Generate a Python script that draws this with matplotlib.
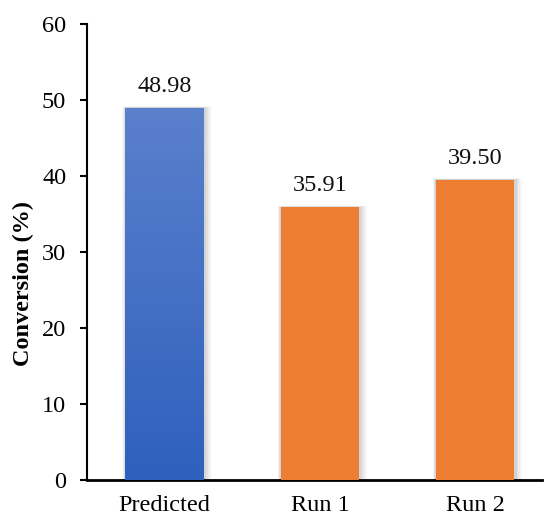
import numpy as np
import matplotlib
matplotlib.use("Agg")
import matplotlib.pyplot as plt
from matplotlib.colors import LinearSegmentedColormap
from matplotlib.patches import Rectangle

categories = ["Predicted", "Run 1", "Run 2"]
conversion = [48.98, 35.91, 39.50]
value_labels = ["48.98", "35.91", "39.50"]

plt.rcParams["font.family"] = ["Liberation Serif", "DejaVu Serif"]

FS = 17.5

fig = plt.figure(figsize=(5.44, 5.15), dpi=100)
ax = fig.add_axes([87 / 544, 35 / 515, 455 / 544, 456 / 515])

x = np.arange(len(categories))
width = 0.505

bars = ax.bar(x, conversion, width=width, color=["none", "#ed7d31", "#ed7d31"],
              edgecolor="none", zorder=3)

# soft drop shadow behind each bar
for b in bars:
    for k, a in enumerate([0.06, 0.05, 0.04, 0.03]):
        off = 0.01 + k * 0.008
        sh = Rectangle((b.get_x() - off * 0.6, 0), b.get_width() + 2 * off, b.get_height() + off * 6,
                       facecolor="black", alpha=a, edgecolor="none", zorder=2)
        ax.add_patch(sh)

# gradient fill for the predicted bar
grad_cmap = LinearSegmentedColormap.from_list("blue_grad", ["#2e60bd", "#5b80cc"])
pb = bars[0]
gx0, gx1 = pb.get_x(), pb.get_x() + pb.get_width()
grad = np.linspace(0, 1, 256).reshape(-1, 1)
im = ax.imshow(grad, cmap=grad_cmap, origin="lower", aspect="auto",
               extent=[gx0, gx1, 0, pb.get_height()], zorder=3)
im.set_clip_path(pb)

for xi, v, lab in zip(x, conversion, value_labels):
    ax.text(xi, v + 2.1, lab, ha="center", va="baseline", fontsize=FS, color="#111111", zorder=4)

ax.set_xlim(-0.5, 2.43)
ax.set_ylim(0, 60)
ax.set_yticks(np.arange(0, 61, 10))
ax.set_xticks(x)
ax.set_xticklabels(categories)
ax.tick_params(axis="y", direction="out", length=5, width=1.5, labelsize=FS, pad=10)
ax.tick_params(axis="x", length=0, labelsize=FS, pad=11)
ax.set_ylabel("Conversion (%)", fontsize=FS, fontweight="bold", labelpad=6, y=0.43)

for side in ["top", "right"]:
    ax.spines[side].set_visible(False)
ax.spines["left"].set_linewidth(1.5)
ax.spines["bottom"].set_linewidth(2.0)

fig.savefig("out.png", dpi=100)
